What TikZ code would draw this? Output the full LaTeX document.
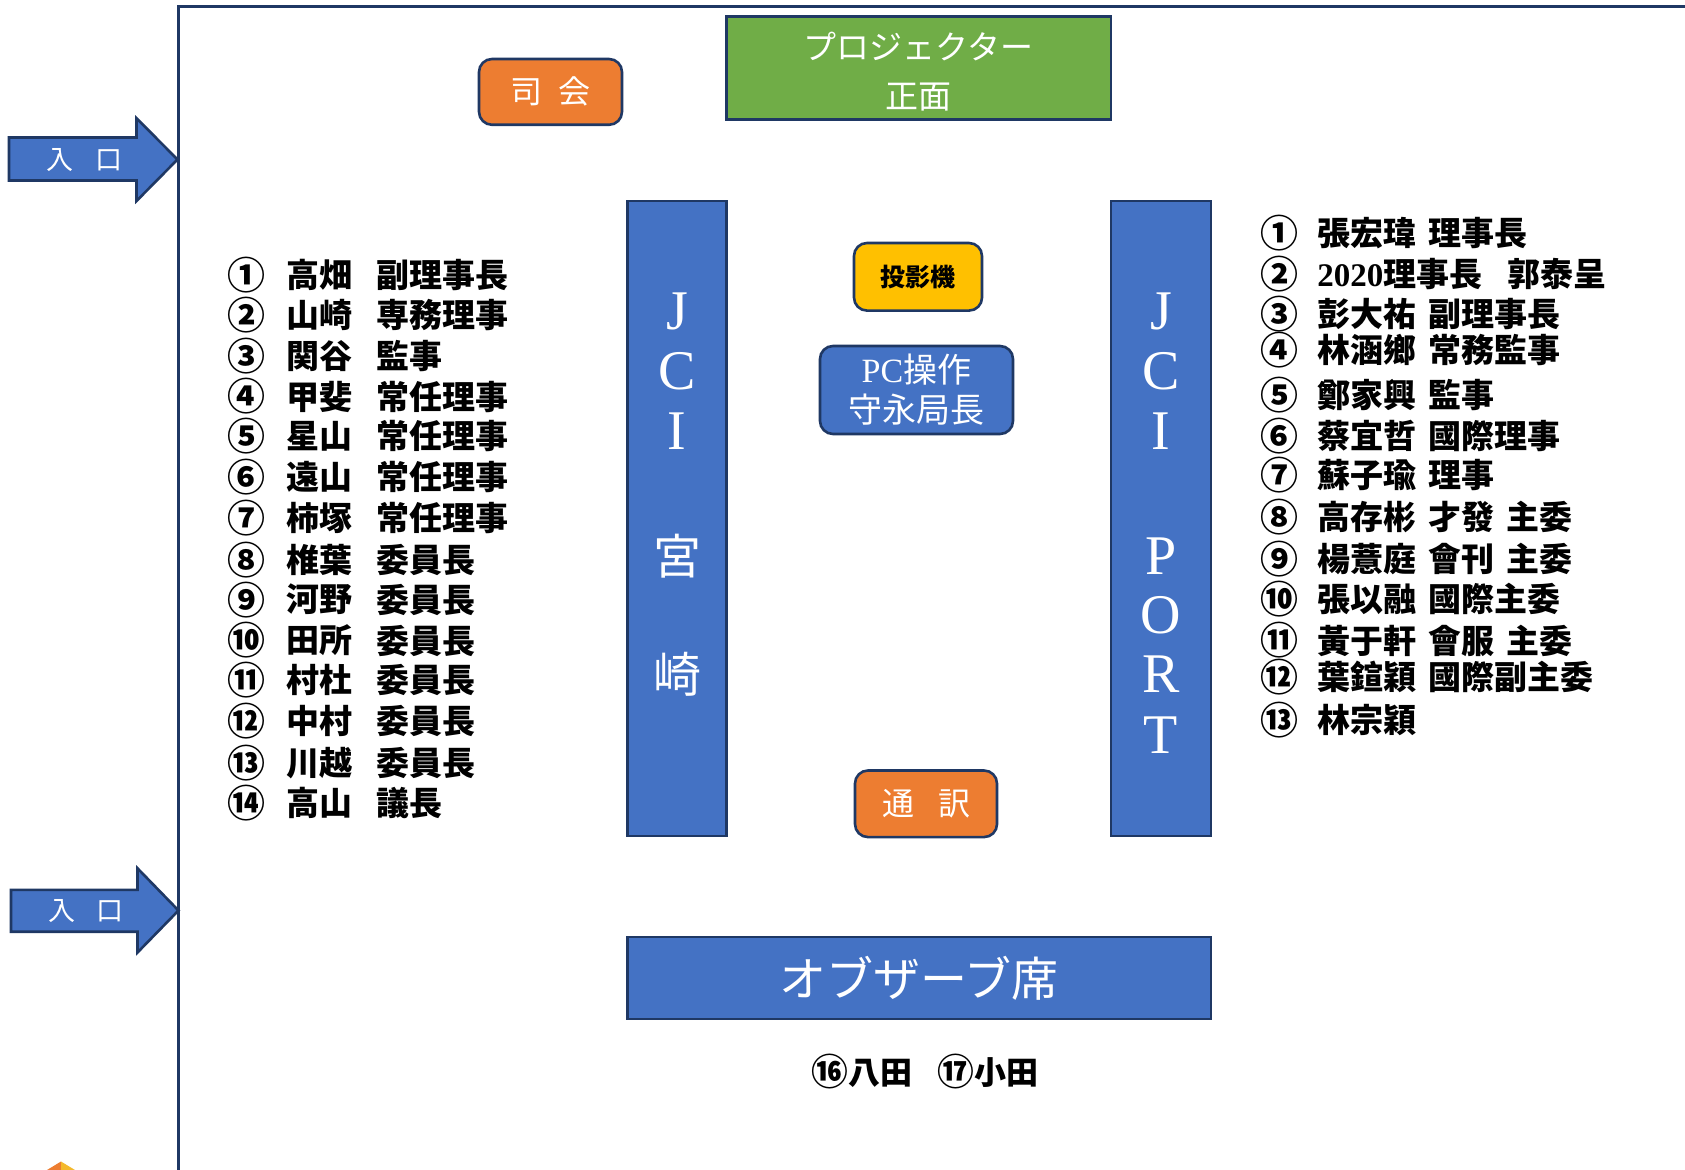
\documentclass[tikz,border=0pt]{standalone}
\usepackage{graphicx}
\usepackage{fontspec}
\setmainfont{Liberation Serif}
\newfontfamily\cjk{Noto Sans CJK JP}
\newcommand\gp{\hspace{0.36em}}
\newcommand\circnum[1]{\raisebox{-0.06em}{\scalebox{1.15}{#1}}}
\definecolor{navy}{HTML}{1F3864}
\definecolor{jblue}{HTML}{4472C4}
\definecolor{jorange}{HTML}{ED7D31}
\definecolor{jgreen}{HTML}{70AD47}
\definecolor{jyellow}{HTML}{FFC000}
\definecolor{jyel2}{HTML}{F4B92C}
\begin{document}
\begin{tikzpicture}[x=0.5pt,y=-0.5pt,
  wall/.style={draw=navy,line width=1.5pt},
  entry/.style={fill=jblue,draw=navy,line width=1.3pt,line join=miter},
  box/.style={draw=navy,line width=1.3pt,inner sep=0pt,align=center},
  rbox/.style={box,rounded corners=6.5pt},
  wtxt/.style={text=white,font=\cjk},
  listtxt/.style={anchor=west,inner sep=0pt,font=\cjk\bfseries\fontsize{16.5}{18}\selectfont},
  colltr/.style={text=white,inner sep=0pt,font=\fontsize{28}{28}\selectfont},
  colcjk/.style={text=white,inner sep=0pt,font=\cjk\fontsize{24}{24}\selectfont}]
\useasboundingbox (0,0) rectangle (1685,1170);
\fill[white] (0,0) rectangle (1685,1170);

% room walls
\draw[wall] (1685,6.5) -- (178.5,6.5) -- (178.5,1170);

% entrances
\draw[entry] (9,137.5) -- (136.5,137.5) -- (136.5,118.2) -- (177.5,159.5) -- (136.5,201) -- (136.5,180.5) -- (9,180.5) -- cycle;
\node[wtxt,font=\cjk\fontsize{13.5}{13.5}\selectfont] (ent1) at (84.5,160) {入\hspace{0.8em}口};
\draw[entry] (11,889.8) -- (137.5,889.8) -- (137.5,868.3) -- (178.5,910.5) -- (137.5,952.5) -- (137.5,931.7) -- (11,931.7) -- cycle;
\node[wtxt,font=\cjk\fontsize{13.5}{13.5}\selectfont] (ent2) at (86,911.5) {入\hspace{0.8em}口};

% small logo corner
\fill[jorange] (47,1170) -- (61,1161.5) -- (61,1170) -- cycle;
\fill[jyel2] (61,1161.5) -- (75,1170) -- (61,1170) -- cycle;

% top boxes
\node[rbox,fill=jorange,minimum width=71.5pt,minimum height=32.9pt,wtxt,font=\cjk\fontsize{16}{16}\selectfont] (shikai) at (550.5,91.9) {司\hspace{0.5em}会};
\node[box,fill=jgreen,minimum width=192.3pt,minimum height=51.6pt,wtxt,font=\cjk\fontsize{16.5}{24.5}\selectfont] (proj) at (918.7,68) {};
\node[wtxt,inner sep=0pt,align=center,font=\cjk\fontsize{16.5}{24.5}\selectfont] (projt) at (918.7,71.5) {プロジェクター\\正面};

% columns
\node[box,fill=jblue,minimum width=49.4pt,minimum height=317.5pt] (colL) at (677,518.5) {};
\node[box,fill=jblue,minimum width=50pt,minimum height=317.5pt] (colR) at (1161,518.5) {};
\node[colltr] (lJ) at (677,311) {J};
\node[colltr] (lC) at (677,371) {C};
\node[colltr] (lI) at (677,431) {I};
\node[colcjk] (lM) at (677,556) {宮};
\node[colcjk] (lZ) at (677,674) {崎};
\node[colltr] (rJ) at (1161,311) {J};
\node[colltr] (rC) at (1161,371) {C};
\node[colltr] (rI) at (1161,431) {I};
\node[colltr] (rP) at (1161,556) {P};
\node[colltr] (rO) at (1161,615) {O};
\node[colltr] (rR) at (1161,674) {R};
\node[colltr] (rT) at (1161,735) {T};

% centre boxes
\node[rbox,fill=jyellow,minimum width=64pt,minimum height=33.8pt,font=\cjk\bfseries\fontsize{12.5}{12.5}\selectfont] (tou) at (918,276.8) {投影機};
\node[rbox,fill=jblue,minimum width=96.5pt,minimum height=44pt,wtxt,font=\cjk\fontsize{17}{20}\selectfont] (pc) at (916.5,390) {{\rmfamily PC}操作\\守永局長};
\node[rbox,fill=jorange,minimum width=71pt,minimum height=33.3pt,wtxt,font=\cjk\fontsize{16}{16}\selectfont] (tsu) at (926,803.8) {通\hspace{0.75em}訳};
\node[box,fill=jblue,minimum width=291.7pt,minimum height=40.9pt,wtxt,font=\cjk\fontsize{23.5}{23.5}\selectfont] (obs) at (919.3,978) {オブザーブ席};
\node[inner sep=0pt,font=\cjk\bfseries\fontsize{16}{16}\selectfont] (obsn) at (925,1072) {\circnum{⑯}八田\hspace{0.8em}\circnum{⑰}小田};

% left list
\foreach \yy/\nn/\aa/\bb [count=\i] in {275.1/①/高畑/副理事長, 314.9/②/山崎/専務理事, 355.7/③/関谷/監事, 396.5/④/甲斐/常任理事, 436.3/⑤/星山/常任理事, 477.1/⑥/遠山/常任理事, 518/⑦/柿塚/常任理事, 559.9/⑧/椎葉/委員長, 599.6/⑨/河野/委員長, 640.5/⑩/田所/委員長, 680.2/⑪/村杜/委員長, 721.1/⑫/中村/委員長, 763/⑬/川越/委員長, 802.7/⑭/高山/議長} {
  \node[listtxt] (ln\i) at (227,\yy) {\circnum{\nn}};
  \node[listtxt] (la\i) at (286,\yy) {\aa};
  \node[listtxt] (lb\i) at (376,\yy) {\bb};
}

% right list
\foreach \yy/\nn/\tt [count=\i] in {233.2/①/{張宏瑋\gp 理事長}, 274/②/{{\rmfamily 2020}理事長\hspace{0.75em}郭泰呈}, 313.8/③/{彭大祐\gp 副理事長}, 350.3/④/{林涵鄉\gp 常務監事}, 395.5/⑤/{鄭家興\gp 監事}, 436.3/⑥/{蔡宜哲\gp 國際理事}, 475/⑦/{蘇子瑜\gp 理事}, 516.9/⑧/{高存彬\gp 才發\gp 主委}, 558.8/⑨/{楊薏庭\gp 會刊\gp 主委}, 598.6/⑩/{張以融\gp 國際主委}, 640.5/⑪/{黃于軒\gp 會服\gp 主委}, 677/⑫/{葉鍹穎\gp 國際副主委}, 720/⑬/{林宗穎}} {
  \node[listtxt] (rn\i) at (1260,\yy) {\circnum{\nn}};
  \node[listtxt] (rt\i) at (1317,\yy) {\tt};
}
\end{tikzpicture}
\end{document}
